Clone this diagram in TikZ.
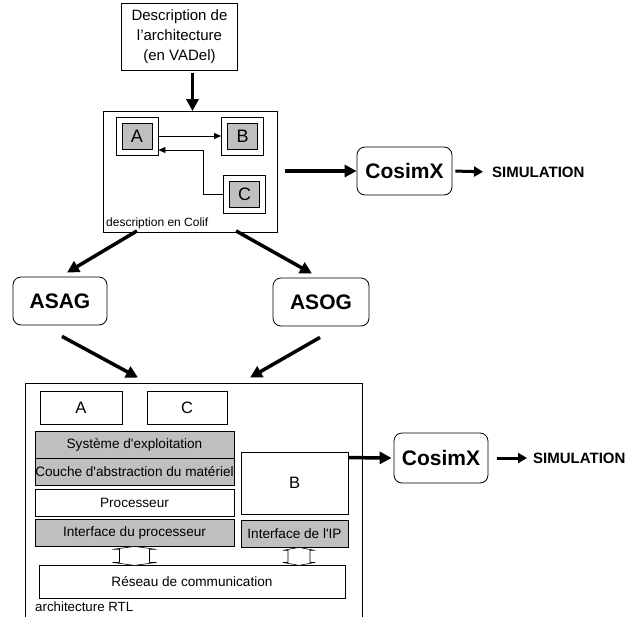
\documentclass[tikz,border=0pt]{standalone}
\usepackage{fontspec}
\setmainfont{Liberation Sans}
\usetikzlibrary{arrows.meta}

\begin{document}
\begin{tikzpicture}[x=1pt,y=-1pt,
  blockbox/.style={draw,line width=0.8pt,inner sep=0pt,align=center,font=\fontsize{13.6}{16}\selectfont},
  greybox/.style={blockbox,fill=black!25},
  toolbox/.style={draw,line width=0.8pt,rounded corners=8pt,inner sep=0pt,minimum width=94pt,minimum height=48pt,font=\fontsize{21}{24}\selectfont\bfseries},
  cellframe/.style={draw,line width=0.8pt,fill=white,inner sep=0pt,minimum width=42pt,minimum height=38pt},
  cellcore/.style={draw,line width=0.8pt,fill=black!25,inner sep=0pt,minimum width=30pt,minimum height=26pt,font=\fontsize{18}{20}\selectfont},
  bigarrow/.style={line width=3.5pt,-{Triangle[length=12pt,width=12pt]}},
  medarrow/.style={line width=3pt,-{Triangle[length=9pt,width=10pt]}},
  thinarrow/.style={line width=0.8pt,-{Triangle[length=7pt,width=6pt]}},
  busarrow/.style={line width=0.6pt,fill=white},
  simtext/.style={inner sep=0pt,anchor=west,font=\fontsize{15}{18}\selectfont\bfseries}]

\useasboundingbox (0,0) rectangle (629,616);

% Description of the architecture in VADel
\node[blockbox,minimum width=116pt,minimum height=67pt,font=\fontsize{15}{20}\selectfont] (vadel) at (179.5,36.5) {Description de\\l’architecture\\(en VADel)};

% Colif description with A, B and C
\node[draw,line width=0.8pt,minimum width=174pt,minimum height=121pt] (colif) at (190,172) {};
\node[inner sep=0pt,anchor=base west,font=\fontsize{12}{14}\selectfont] (coliflabel) at (106,226.5) {description en Colif};
\node[cellframe] (fA) at (137,136) {};
\node[cellcore] (cA) at (fA) {A};
\node[cellframe] (fB) at (242.5,136) {};
\node[cellcore] (cB) at (fB) {B};
\node[cellframe] (fC) at (244.5,194.5) {};
\node[cellcore] (cC) at (fC) {C};
\draw[thinarrow] (fA.east) -- (fB.west);
\draw[thinarrow] (fC.west) -- ++(-20,0) |- ([yshift=-14pt]fA.east);

\draw[bigarrow,shorten <=3pt] ([xshift=13pt]vadel.south) -- ([xshift=13pt]vadel.south |- colif.north);

% First cosimulation
\node[toolbox,minimum width=95pt] (cosim1) at (404.5,171) {CosimX};
\node[simtext] (sim1) at (492,172) {SIMULATION};
\draw[bigarrow,shorten <=8pt] (colif.east |- cosim1.west) -- (cosim1.west);
\draw[medarrow,shorten <=3pt,shorten >=9pt] (cosim1.east) -- (sim1.west);

% ASAG and ASOG
\node[toolbox] (asag) at (60,301) {ASAG};
\node[toolbox,minimum width=96pt] (asog) at (321,302) {ASOG};
\draw[bigarrow] ([xshift=-53pt,yshift=2pt]colif.south) -- ([xshift=7pt,yshift=4pt]asag.north);
\draw[bigarrow] ([xshift=46pt,yshift=2pt]colif.south) -- ([xshift=-9pt,yshift=4pt]asog.north);

% RTL architecture
\node[draw,line width=0.8pt,inner sep=0pt,minimum width=337pt,minimum height=240pt] (rtl) at (193.5,503) {};
\node[inner sep=0pt,anchor=base west,font=\fontsize{13.3}{16}\selectfont] (rtllabel) at (35,611) {architecture RTL};
\draw[bigarrow] ([xshift=2pt,yshift=-11pt]asag.south) -- ([xshift=-55.5pt,yshift=5pt]rtl.north);
\draw[bigarrow] ([xshift=-1pt,yshift=-11pt]asog.south) -- ([xshift=56.5pt,yshift=5pt]rtl.north);

\node[blockbox,minimum width=82pt,minimum height=33pt,font=\fontsize{16.5}{18}\selectfont] (rA) at (81,407.5) {A};
\node[blockbox,minimum width=80pt,minimum height=33pt,font=\fontsize{16.5}{18}\selectfont] (rC) at (187,407.5) {C};
\node[greybox,minimum width=199pt,minimum height=27pt] (os) at (134.5,444.5) {Système d\textquotesingle exploitation};
\node[greybox,minimum width=199pt,minimum height=27pt] (hal) at (134.5,471.5) {Couche d\textquotesingle abstraction du matériel};
\node[blockbox,minimum width=199pt,minimum height=27pt] (proc) at (134.5,502.5) {Processeur};
\node[greybox,minimum width=199pt,minimum height=27pt] (ifproc) at (134.5,532.5) {Interface du processeur};
\node[blockbox,minimum width=107pt,minimum height=62pt,font=\fontsize{16.5}{18}\selectfont] (rB) at (294.5,483) {B};
\node[greybox,minimum width=107pt,minimum height=27pt] (ifip) at (294.5,533.5) {Interface de l\textquotesingle IP};
\node[blockbox,minimum width=306pt,minimum height=33pt] (reseau) at (192,581.5) {Réseau de communication};

% Links to the network
\draw[busarrow] (ifproc.south) -- ++(22,3) -- ++(-7,0) -- ++(0,13) -- ++(7,0) -- ++(-22,3)
  -- ++(-22,-3) -- ++(7,0) -- ++(0,-13) -- ++(-7,0) -- cycle;
\draw[busarrow] ([xshift=4.5pt]ifip.south) -- ++(16,3) -- ++(-5,0) -- ++(0,12) -- ++(5,0) -- ++(-16,3)
  -- ++(-16,-3) -- ++(5,0) -- ++(0,-12) -- ++(-5,0) -- cycle;

% Second cosimulation
\node[toolbox,minimum height=50pt] (cosim2) at (441,458) {CosimX};
\node[simtext] (sim2) at (533,458) {SIMULATION};
\draw[bigarrow,shorten >=2pt] ([yshift=-6pt]rB.north east) -- (cosim2.west);
\draw[medarrow,shorten <=9pt,shorten >=6pt] (cosim2.east) -- (sim2.west);

\end{tikzpicture}
\end{document}
